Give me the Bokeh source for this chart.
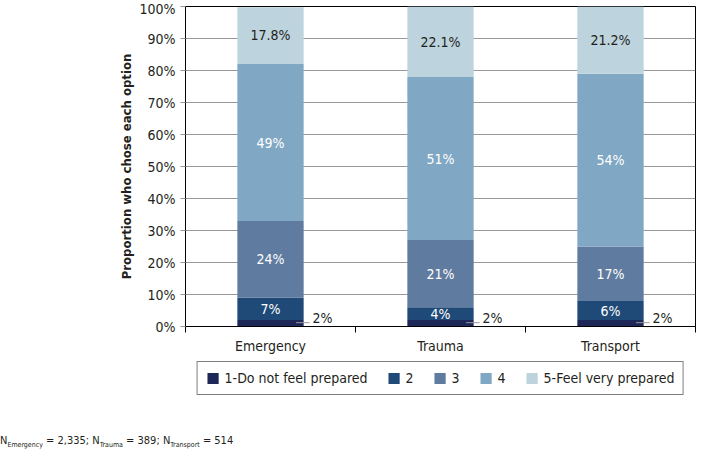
from bokeh.plotting import figure
from bokeh.layouts import column
from bokeh.models import (Range1d, FixedTicker, PrintfTickFormatter, Legend, LegendItem,
                          ColumnDataSource, Div)
from bokeh.core.properties import value
from bokeh.embed import file_html
from bokeh.resources import INLINE

# ---------------- data ----------------
categories = ["Emergency", "Trauma", "Transport"]
series_names = ["1-Do not feel prepared", "2", "3", "4", "5-Feel very prepared"]
s1 = [2, 2, 2]
s2 = [7, 4, 6]
s3 = [24, 21, 17]
s4 = [49, 51, 54]
s5 = [17.8, 22.1, 21.2]
y_ticks = [0, 10, 20, 30, 40, 50, 60, 70, 80, 90, 100]
sample_names = ["Emergency", "Trauma", "Transport"]
sample_sizes = ["2,335", "389", "514"]

colors = ["#1d2859", "#1f4a78", "#5f7ba0", "#80a7c3", "#bdd3dd"]
FONT = "'Liberation Sans Narrow', 'DejaVu Sans Condensed', Roboto, sans-serif"
TXT = "#231f20"

series = [s1, s2, s3, s4, s5]
keys = ["s1", "s2", "s3", "s4", "s5"]
xs = [i + 0.5 for i in range(len(categories))]
data = {"x": xs}
for k, s in zip(keys, series):
    data[k] = s
src = ColumnDataSource(data)

W = 697
H1 = 358
H2 = 72
H3 = 17
p = figure(width=W, height=H1, x_range=Range1d(0, len(categories)), y_range=Range1d(0, 100),
           output_backend="svg", toolbar_location=None,
           min_border_left=185, min_border_right=2, min_border_top=6, min_border_bottom=32)

BAR_W = 0.39
rs = p.vbar_stack(keys, x="x", width=BAR_W, color=colors, line_color=None, source=src)

# segment labels
lab_x, lab_y, lab_t, lab_c = [], [], [], []
for j in range(len(categories)):
    cum = 0
    for i, s in enumerate(series):
        v = s[j]
        mid = cum + v / 2
        cum += v
        if i == 0:
            continue
        lab_x.append(xs[j])
        lab_y.append((cum - v + 100) / 2 if i == 4 else mid)
        lab_t.append(f"{v:.1f}%" if i == 4 else f"{v:g}%")
        lab_c.append(TXT if i == 4 else "white")
p.text(x=lab_x, y=lab_y, text=lab_t, text_color=lab_c, text_align="center",
       text_baseline="middle", text_font=value(FONT), text_font_size="14px")

# small first-segment labels with leader lines
p.segment(x0=[x + 0.15 for x in xs], x1=[x + 0.23 for x in xs],
          y0=[v * 0.6 for v in s1], y1=[v * 0.6 for v in s1], line_color="#999999", line_width=1)
p.text(x=xs, y=s1, text=[f"{v:g}%" for v in s1], x_offset=42, y_offset=-2,
       text_align="left", text_baseline="middle", text_color=TXT,
       text_font=value(FONT), text_font_size="14px")

# axes
p.xgrid.visible = False
p.ygrid.ticker = FixedTicker(ticks=y_ticks)
p.ygrid.grid_line_color = "#999999"
p.outline_line_color = "black"
p.outline_line_width = 1

p.yaxis.ticker = FixedTicker(ticks=y_ticks)
p.yaxis.formatter = PrintfTickFormatter(format="%d%%")
p.yaxis.axis_label = "Proportion who chose each option"
p.yaxis.axis_label_text_font = FONT
p.yaxis.axis_label_text_font_style = "bold"
p.yaxis.axis_label_text_font_size = "13px"
p.yaxis.axis_label_text_color = TXT
p.yaxis.axis_label_standoff = 2
p.yaxis.major_label_text_font = FONT
p.yaxis.major_label_text_font_size = "14px"
p.yaxis.major_label_text_color = TXT
p.yaxis.major_tick_out = 5
p.yaxis.major_tick_in = 0
p.yaxis.major_tick_line_color = "#999999"
p.yaxis.minor_tick_line_color = None
p.yaxis.axis_line_color = "black"

p.xaxis.ticker = FixedTicker(ticks=xs, minor_ticks=list(range(len(categories) + 1)))
p.xaxis.major_label_overrides = {x: c for x, c in zip(xs, categories)}
p.xaxis.major_label_text_font = FONT
p.xaxis.major_label_text_font_size = "14px"
p.xaxis.major_label_text_color = TXT
p.xaxis.major_tick_line_color = None
p.xaxis.major_tick_out = 4
p.xaxis.major_label_standoff = 5
p.xaxis.minor_tick_out = 6
p.xaxis.minor_tick_in = 0
p.xaxis.minor_tick_line_color = "black"
p.xaxis.axis_line_color = "black"

# ---------------- legend panel ----------------
q = figure(width=W, height=H2, x_range=Range1d(0, 1), y_range=Range1d(0, 1),
           x_axis_type=None, y_axis_type=None, output_backend="svg", toolbar_location=None,
           min_border_left=185, min_border_right=2, min_border_top=0, min_border_bottom=0)
q.outline_line_color = None
q.grid.visible = False
dummies = [q.vbar(x=[-10], top=[0], width=0.1, color=c, line_color=None) for c in colors]

legend = Legend(items=[LegendItem(label=n, renderers=[r]) for n, r in zip(series_names, dummies)],
                orientation="horizontal", location="top_center",
                border_line_color="black", border_line_width=1,
                label_text_font=FONT, label_text_font_size="14px", label_text_color=TXT,
                glyph_width=14, glyph_height=14, label_height=14, label_width=5,
                label_standoff=5, spacing=19, padding=8, margin=3)
q.add_layout(legend)

# ---------------- footnote ----------------
parts = []
for nm, sz in zip(sample_names, sample_sizes):
    parts.append(f"N<sub style='font-size:7px'>{nm}</sub> = {sz}")
foot = Div(text="; ".join(parts), width=W, height=H3, margin=(0, 0, 0, 0),
           styles={"font-family": FONT, "font-size": "11px", "color": TXT,
                   "line-height": "11px", "padding-top": "5px"})

open("out.html", "w").write(file_html(column(p, q, foot, spacing=0), INLINE))
